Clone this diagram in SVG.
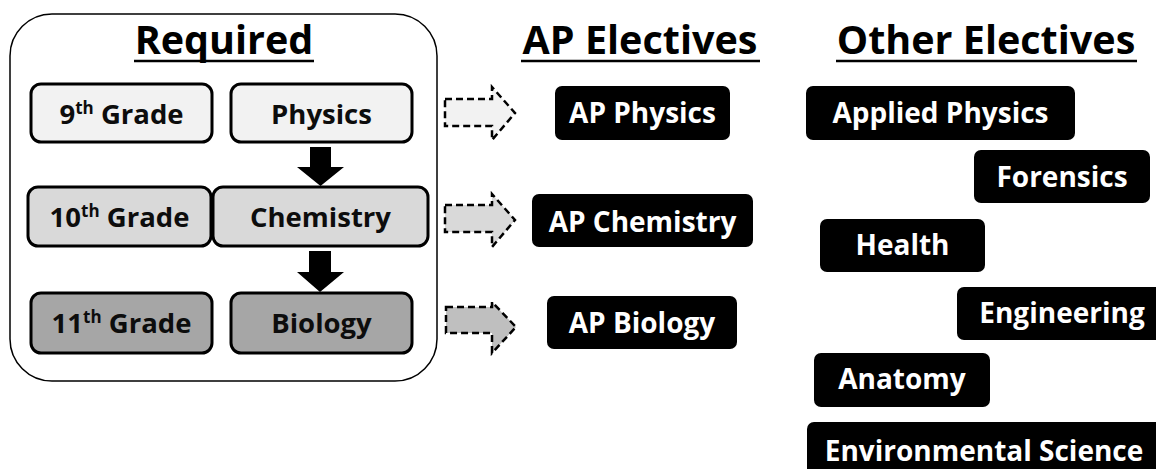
<svg xmlns="http://www.w3.org/2000/svg" width="1156" height="469" viewBox="0 0 1156 469">
<style>
.hd{font-family:"Open Sans","Liberation Sans",sans-serif;font-weight:700;font-size:39.5px;fill:#000;text-anchor:middle}
.ul{stroke:#000;stroke-width:2.5}
.req rect{stroke:#000;stroke-width:3}
.lbl{font-family:"Open Sans","Liberation Sans",sans-serif;font-weight:700;font-size:27.5px;fill:#0d0d0d;text-anchor:middle}
.sup{font-size:17px}
.blk rect{fill:#000}
.wt{font-family:"Open Sans","Liberation Sans",sans-serif;font-weight:700;font-size:28px;fill:#fff;text-anchor:middle}
.da{stroke:#000;stroke-width:2.5;stroke-dasharray:7 4;stroke-linejoin:miter}
.down{fill:#000}
</style>
<rect width="1156" height="469" fill="#fff"/>
<rect id="container" x="10" y="14" width="427" height="367" rx="42" fill="#fff" stroke="#000" stroke-width="1.5"/>
<g id="headings">
<text class="hd" x="224" y="54">Required</text>
<line class="ul" x1="134" y1="61" x2="314" y2="61"/>
<text class="hd" x="640" y="54">AP Electives</text>
<line class="ul" x1="521" y1="61" x2="760" y2="61"/>
<text class="hd" x="986" y="54">Other Electives</text>
<line class="ul" x1="836" y1="61" x2="1137" y2="61"/>
</g>
<g id="grade9" class="req"><rect x="31" y="84" width="181" height="58" rx="10" fill="#f2f2f2"/><text class="lbl" x="121.5" y="124">9<tspan class="sup" dy="-10">th</tspan><tspan dy="10"> Grade</tspan></text></g>
<g id="physics" class="req"><rect x="231" y="84" width="181" height="58" rx="10" fill="#f2f2f2"/><text class="lbl" x="321.5" y="124">Physics</text></g>
<g id="grade10" class="req"><rect x="28" y="187" width="183" height="59" rx="10" fill="#d9d9d9"/><text class="lbl" x="119.5" y="227">10<tspan class="sup" dy="-10">th</tspan><tspan dy="10"> Grade</tspan></text></g>
<g id="chemistry" class="req"><rect x="213" y="187" width="215" height="59" rx="10" fill="#d9d9d9"/><text class="lbl" x="320.5" y="227">Chemistry</text></g>
<g id="grade11" class="req"><rect x="31" y="293" width="181" height="60" rx="10" fill="#a6a6a6"/><text class="lbl" x="121.5" y="333">11<tspan class="sup" dy="-10">th</tspan><tspan dy="10"> Grade</tspan></text></g>
<g id="biology" class="req"><rect x="231" y="293" width="181" height="60" rx="10" fill="#a6a6a6"/><text class="lbl" x="321.5" y="333">Biology</text></g>
<g id="ap-physics" class="blk"><rect x="555" y="86" width="175" height="54" rx="7"/><text class="wt" x="642.5" y="123">AP Physics</text></g>
<g id="ap-chemistry" class="blk"><rect x="532" y="194" width="221" height="53" rx="7"/><text class="wt" x="642.5" y="232">AP Chemistry</text></g>
<g id="ap-biology" class="blk"><rect x="547" y="296" width="190" height="53" rx="7"/><text class="wt" x="642" y="333">AP Biology</text></g>
<g id="applied-physics" class="blk"><rect x="806" y="86" width="269" height="54" rx="7"/><text class="wt" x="940.5" y="123">Applied Physics</text></g>
<g id="forensics" class="blk"><rect x="974" y="150" width="176" height="53" rx="7"/><text class="wt" x="1062" y="187">Forensics</text></g>
<g id="health" class="blk"><rect x="820" y="219" width="165" height="53" rx="7"/><text class="wt" x="902.5" y="255">Health</text></g>
<g id="engineering" class="blk"><rect x="957" y="287" width="210" height="53" rx="7"/><text class="wt" x="1062" y="323">Engineering</text></g>
<g id="anatomy" class="blk"><rect x="814" y="353" width="176" height="54" rx="7"/><text class="wt" x="902" y="389">Anatomy</text></g>
<g id="environmental-science" class="blk"><rect x="807" y="422" width="360" height="60" rx="7"/><text class="wt" x="984" y="461">Environmental Science</text></g>
<g id="connectors">
<path class="down" d="M310,147 H331 V167 H344 L320.5,186 L297,167 H310 Z"/>
<path class="down" d="M309,251 H331 V272 H344 L320,292 L297,272 H309 Z"/>
<path class="da" fill="#f2f2f2" d="M445,99 H492 V87 L515,113 L492,140 V126 H445 Z"/>
<path class="da" fill="#d9d9d9" d="M445,205 H492 V194 L515,220 L492,247 V232 H445 Z"/>
<path class="da" fill="#bfbfbf" d="M446,307 H492 V302 L516,327 L492,353 V333 H446 Z"/>
</g>
</svg>
